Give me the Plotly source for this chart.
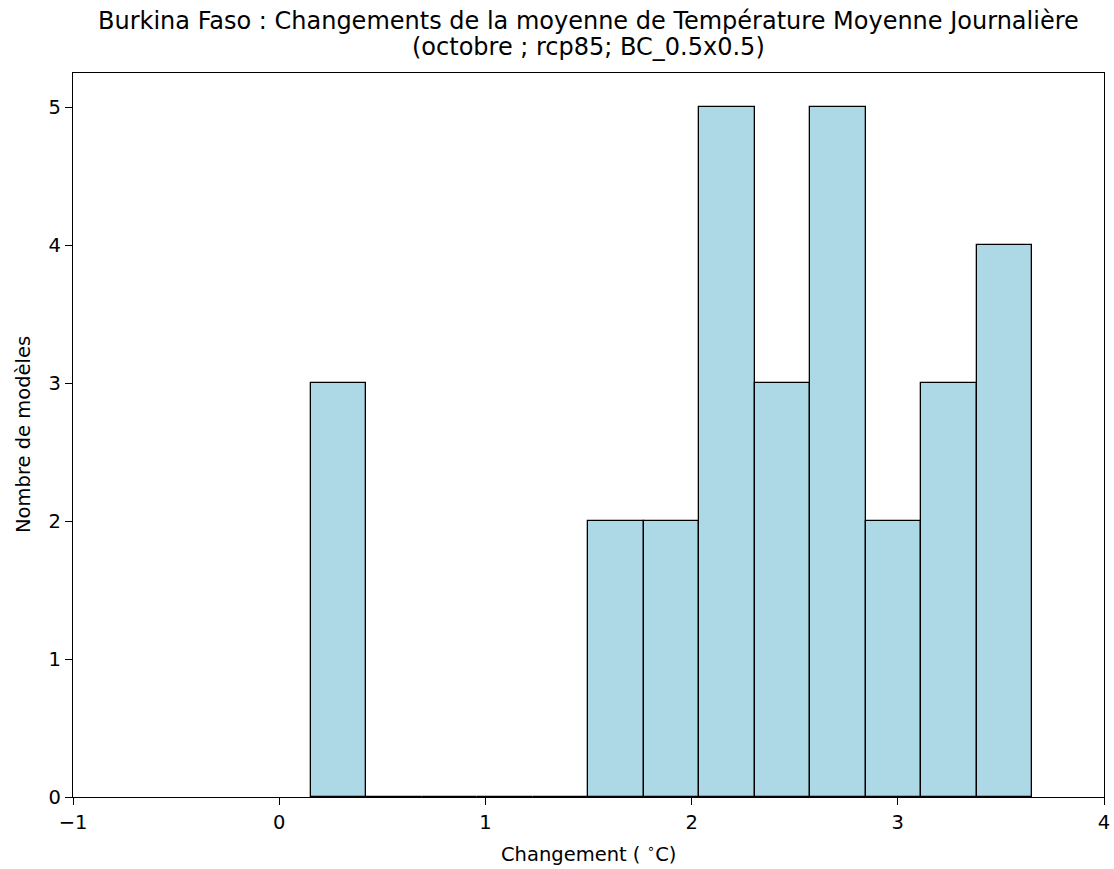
import plotly.graph_objects as go

# Histogram bin edges (°C) and counts
bin_edges = [0.153, 0.422, 0.691, 0.960, 1.230, 1.499, 1.768, 2.037,
             2.307, 2.576, 2.845, 3.114, 3.384, 3.653]
counts = [3, 0, 0, 0, 0, 2, 2, 5, 3, 5, 2, 3, 4]

x_ticks = [-1, 0, 1, 2, 3, 4]
y_ticks = [0, 1, 2, 3, 4, 5]

title_line1 = "Burkina Faso : Changements de la moyenne de Température Moyenne Journalière"
title_line2 = "(octobre ; rcp85; BC_0.5x0.5)"
x_label = "Changement ( <sup>∘</sup>C)"
y_label = "Nombre de modèles"

centers = [(a + b) / 2 for a, b in zip(bin_edges[:-1], bin_edges[1:])]
widths = [b - a for a, b in zip(bin_edges[:-1], bin_edges[1:])]

FONT = "DejaVu Sans"
TICK_SIZE = 19.5
TITLE_SIZE = 24

fig = go.Figure()
fig.add_trace(go.Bar(
    x=centers, y=counts, width=widths,
    marker=dict(color="#ADD8E6", line=dict(color="black", width=1.3)),
    showlegend=False, hoverinfo="x+y",
))

axis_common = dict(
    showgrid=False, zeroline=False, showline=True, linecolor="black",
    linewidth=1.3, mirror=True, ticks="outside", ticklen=7, tickwidth=1.3,
    tickcolor="black", tickfont=dict(family=FONT, size=TICK_SIZE, color="black"),
    automargin=False,
)

fig.update_layout(
    width=1114, height=869, autosize=False,
    margin=dict(l=73, r=10, t=73, b=72),
    paper_bgcolor="white", plot_bgcolor="white",
    font=dict(family=FONT, color="black"),
    xaxis=dict(range=[-1, 4], tickvals=x_ticks,
               ticktext=[("−1" if t < 0 else str(t)) for t in x_ticks], **axis_common),
    yaxis=dict(range=[0, 5.25], tickvals=y_ticks, **axis_common),
    bargap=0,
    annotations=[
        dict(text=title_line1, xref="paper", yref="paper",
             x=0.5, y=1.0, yshift=52, xanchor="center", yanchor="middle",
             showarrow=False, font=dict(family=FONT, size=TITLE_SIZE, color="black")),
        dict(text=title_line2, xref="paper", yref="paper",
             x=0.5, y=1.0, yshift=26, xanchor="center", yanchor="middle",
             showarrow=False, font=dict(family=FONT, size=TITLE_SIZE, color="black")),
        dict(text=x_label, xref="paper", yref="paper", x=0.5, y=0,
             yshift=-56, xanchor="center", yanchor="middle", showarrow=False,
             font=dict(family=FONT, size=TICK_SIZE, color="black")),
        dict(text=y_label, xref="paper", yref="paper", x=0, y=0.5,
             xshift=-50, xanchor="center", yanchor="middle", textangle=-90,
             showarrow=False, font=dict(family=FONT, size=TICK_SIZE, color="black")),
    ],
)

# remove the browser's default 8px body margin so the figure fills the window exactly
fig.write_html("out.html",
               config={"displayModeBar": False},
               post_script="document.body.style.margin='0';document.body.style.overflow='hidden';")
